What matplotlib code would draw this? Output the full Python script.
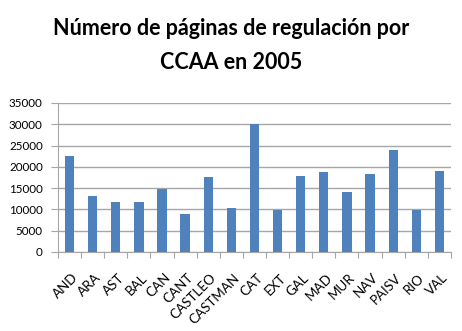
import matplotlib.pyplot as plt
import matplotlib.transforms as mtransforms
import numpy as np

# paginas de regulacion por comunidad autonoma, 2005
ccaa = ["AND", "ARA", "AST", "BAL", "CAN", "CANT", "CASTLEO", "CASTMAN", "CAT",
        "EXT", "GAL", "MAD", "MUR", "NAV", "PAISV", "RIO", "VAL"]
paginas = [22600, 13100, 11800, 11800, 14900, 9000, 17600, 10400, 30000,
           9900, 17900, 18700, 14100, 18300, 23900, 9900, 19000]
yticks = [0, 5000, 10000, 15000, 20000, 25000, 30000, 35000]

fig = plt.figure(figsize=(4.62, 3.31), dpi=100)
ax = fig.add_axes([0.1255, 0.2387, 0.8505, 0.4503])

x = np.arange(len(ccaa))
ax.bar(x, paginas, width=0.4, color="#4F81BD", zorder=3)

ax.set_xlim(-0.5, len(ccaa) - 0.5)
ax.set_ylim(0, 35000)
ax.set_yticks(yticks)
ax.set_yticklabels([str(v) for v in yticks], fontsize=8.4, fontfamily="Lato")
ax.yaxis.grid(True, color="#a6a6a6", linewidth=1, zorder=0)
ax.tick_params(axis="y", length=5, color="#a6a6a6", pad=6)

# ticks between categories, labels centred under bars
ax.set_xticks(np.arange(len(ccaa) + 1) - 0.5)
ax.set_xticklabels([])
ax.set_xticks(x, minor=True)
ax.set_xticklabels(ccaa, minor=True, rotation=45, ha="right", rotation_mode="anchor",
                   fontsize=9.6, fontfamily="Lato")
ax.tick_params(axis="x", which="major", length=4, color="#a6a6a6")
ax.tick_params(axis="x", which="minor", length=0, pad=14)
shift = mtransforms.ScaledTranslation(2 / 100, 0, fig.dpi_scale_trans)
for lbl in ax.get_xticklabels(minor=True):
    lbl.set_transform(lbl.get_transform() + shift)

for s in ["top", "right"]:
    ax.spines[s].set_visible(False)
for s in ["left", "bottom"]:
    ax.spines[s].set_color("#a6a6a6")

fig.text(0.5, 0.915, "Número de páginas de regulación por", ha="center", va="center",
         fontsize=15.5, fontweight="bold", fontfamily="Lato")
fig.text(0.5, 0.81, "CCAA en 2005", ha="center", va="center",
         fontsize=15.5, fontweight="bold", fontfamily="Lato")

fig.savefig("out.png", dpi=100)
